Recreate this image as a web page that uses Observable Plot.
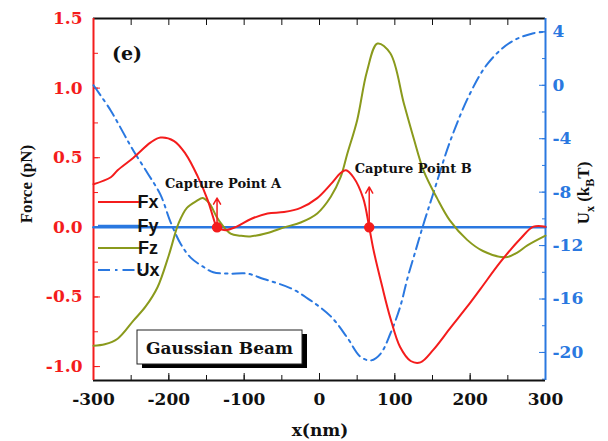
<!DOCTYPE html>
<html>
<head>
<meta charset="utf-8">
<script src="https://cdn.jsdelivr.net/npm/d3@7"></script>
<script src="https://cdn.jsdelivr.net/npm/@observablehq/plot@0.6"></script>
<style>
  html, body { margin: 0; padding: 0; background: #fff; }
  #chart { width: 608px; height: 441px; }
</style>
</head>
<body>
<div id="chart"></div>
<script>
// Optical forces on a particle in a Gaussian beam, and the trapping potential Ux.
const xFx = [-300,-277,-268,-247,-224,-211,-193,-178,-162,-148,-141,-136,-125,-110,-91,-69,-47,-25,-3,15,28,35,45,58,66,72,83,94,107,121,134,151,174,196,214,240,267,284,300];
const fx  = [0.31,0.36,0.41,0.50,0.61,0.645,0.62,0.53,0.37,0.19,0.07,0.0,-0.02,0.005,0.06,0.10,0.11,0.14,0.21,0.31,0.39,0.41,0.36,0.21,0.0,-0.17,-0.42,-0.65,-0.86,-0.96,-0.97,-0.88,-0.72,-0.57,-0.44,-0.25,-0.08,0.005,0.005];

const xFy = [-300, 300];
const fy  = [0, 0];

const xFz = [-300,-285,-268,-247,-231,-215,-200,-187,-176,-163,-155,-146,-137,-131,-118,-105,-92,-69,-47,-25,-3,15,28,37,50,63,77,94,112,125,138,156,173,196,217,247,263,276,300];
const fz  = [-0.85,-0.84,-0.80,-0.67,-0.57,-0.43,-0.20,0.03,0.14,0.19,0.21,0.17,0.08,0.03,-0.045,-0.06,-0.065,-0.04,0.0,0.035,0.10,0.22,0.36,0.53,0.77,1.12,1.32,1.25,0.89,0.64,0.41,0.21,0.05,-0.09,-0.17,-0.215,-0.18,-0.13,-0.06];

const xUx = [-300,-277,-260,-247,-228,-211,-198,-184,-171,-154,-141,-120,-96,-74,-38,-12,15,37,54,68,81,94,107,117,128,138,151,174,200,223,253,284,300];
const ux  = [0.0,-1.9,-3.6,-4.9,-6.6,-8.2,-10.2,-11.9,-12.9,-13.6,-14.0,-14.1,-14.1,-14.5,-15.2,-16.1,-17.3,-18.9,-20.3,-20.6,-20.1,-18.6,-16.6,-14.4,-12.3,-10.4,-8.1,-4.1,-0.6,1.6,3.2,3.9,4.0];

const captureX = [-136, 66];
const captureArrowTop = [0.21, 0.29];
const captureNames = ["Capture Point A", "Capture Point B"];

const seriesNames = ["Fx", "Fy", "Fz", "Ux"];

const xDomain = [-300, 300];
const forceDomain = [-1.1, 1.5];
const uDomain = [-22.1, 5.0];
const xTicks = [-300, -200, -100, 0, 100, 200, 300];
const xMinor = d3.range(-300, 301, 50);
const forceTicks = [-1.0, -0.5, 0.0, 0.5, 1.0, 1.5];
const forceMinor = d3.range(-1.0, 1.51, 0.25);
const uTicks = [-20, -16, -12, -8, -4, 0, 4];
const uMinor = d3.range(-22, 5, 2);

const RED = "#f41c1c", BLUE = "#2a78e0", OLIVE = "#8a9a1c";
const SERIF_WIDE = "'DejaVu Serif', serif";
const SERIF = "'Liberation Serif', 'Times New Roman', serif";
const SANS = "'Liberation Sans', Arial, sans-serif";

// Ux shares the plot's y scale through a linear map onto the force axis.
const uToForce = d3.scaleLinear().domain(uDomain).range(forceDomain);
const hyphen = (s) => s.replace("\u2212", "-");
const fmtForce = (v) => hyphen(d3.format(".1f")(v));
const fmtU = (v) => hyphen(String(Math.round(uToForce.invert(v))));

const fxData = xFx.map((x, i) => ({x, v: fx[i]}));
const fyData = xFy.map((x, i) => ({x, v: fy[i]}));
const fzData = xFz.map((x, i) => ({x, v: fz[i]}));
const uxData = xUx.map((x, i) => ({x, v: uToForce(ux[i])}));
const captures = captureX.map((x, i) => ({x, top: captureArrowTop[i], name: captureNames[i]}));

const DASHDOT = "12,5,2.5,5";
const CURVE = "catmull-rom";

// Legend, panel tag, beam box and axis titles, placed relative to the frame.
function annotations(index, scales, values, dims) {
  const ml = dims ? dims.marginLeft : 93;
  const mt = dims ? dims.marginTop : 18;
  const w = dims ? dims.width : 608;
  const g = d3.create("svg:g");

  g.append("text").attr("x", ml + 34).attr("y", mt + 35)
    .attr("text-anchor", "middle").attr("dominant-baseline", "central")
    .style("font-family", SERIF_WIDE).style("font-weight", "bold").style("font-size", "19px")
    .attr("fill", "#111").text("(e)");

  const legendStyles = [
    {stroke: RED, dash: null, dy: 184},
    {stroke: BLUE, dash: null, dy: 208},
    {stroke: OLIVE, dash: null, dy: 230},
    {stroke: BLUE, dash: DASHDOT, dy: 252}
  ];
  seriesNames.forEach((name, i) => {
    const s = legendStyles[i];
    const y = mt + s.dy;
    g.append("line").attr("x1", ml + 5).attr("x2", ml + 49).attr("y1", y).attr("y2", y)
      .attr("stroke", s.stroke).attr("stroke-width", i === 1 ? 2.5 : 2)
      .attr("stroke-dasharray", s.dash);
    g.append("text").attr("x", ml + 55).attr("y", y)
      .attr("dominant-baseline", "central")
      .style("font-family", SANS).style("font-size", "18px").attr("fill", "#111")
      .text(name);
  });

  const bx = ml + 44, by = mt + 312, bw = 165, bh = 34;
  g.append("rect").attr("x", bx + 5).attr("y", by + 4).attr("width", bw).attr("height", bh).attr("fill", "#000");
  g.append("rect").attr("x", bx).attr("y", by).attr("width", bw).attr("height", bh)
    .attr("fill", "#fff").attr("stroke", "#222").attr("stroke-width", 1);
  g.append("text").attr("x", bx + bw / 2).attr("y", by + bh / 2 + 1)
    .attr("text-anchor", "middle").attr("dominant-baseline", "central")
    .style("font-family", SERIF_WIDE).style("font-weight", "bold").style("font-size", "17px")
    .attr("fill", "#111").text("Gaussian Beam");

  g.append("text").attr("transform", `translate(26,${mt + 166}) rotate(-90)`)
    .attr("text-anchor", "middle").attr("dominant-baseline", "central")
    .style("font-family", SERIF).style("font-weight", "bold").style("font-size", "17px")
    .attr("fill", "#111").text("Force (pN)");

  const ut = g.append("text").attr("transform", `translate(${w - 25},${mt + 175}) rotate(-90)`)
    .attr("text-anchor", "middle").attr("dominant-baseline", "central")
    .style("font-family", SERIF).style("font-weight", "bold").style("font-size", "17px")
    .attr("fill", "#111");
  ut.append("tspan").text("U");
  ut.append("tspan").attr("baseline-shift", "sub").style("font-size", "12px").text("x");
  ut.append("tspan").text(" (k");
  ut.append("tspan").attr("baseline-shift", "sub").style("font-size", "12px").text("B");
  ut.append("tspan").text("T)");

  g.append("text").attr("x", 320).attr("y", 430)
    .attr("text-anchor", "middle").attr("dominant-baseline", "central")
    .style("font-family", SERIF_WIDE).style("font-weight", "bold").style("font-size", "17px")
    .attr("fill", "#111").text("x(nm)");
  return g.node();
}

const plot = Plot.plot({
  width: 608,
  height: 441,
  marginLeft: 93,
  marginRight: 63,
  marginTop: 18,
  marginBottom: 61,
  x: {domain: xDomain},
  y: {domain: forceDomain},
  style: {background: "#fff", fontFamily: SERIF_WIDE, fontWeight: "bold", fontSize: "17px", color: "#111"},
  marks: [
    // axes and frame
    Plot.axisX(xTicks, {anchor: "bottom", tickSize: -7, tickPadding: 19, tickFormat: (d) => hyphen(String(d)), label: null, color: "#111"}),
    Plot.axisX(xMinor, {anchor: "bottom", tickSize: -5, tickFormat: () => "", label: null, color: "#111"}),
    Plot.axisX(xMinor, {anchor: "top", tickSize: -6, tickFormat: () => "", label: null, color: "#111"}),
    Plot.axisY(forceTicks, {anchor: "left", tickSize: -7, tickPadding: 18, tickFormat: fmtForce, label: null, color: RED}),
    Plot.axisY(forceMinor, {anchor: "left", tickSize: -5, tickFormat: () => "", label: null, color: RED}),
    Plot.axisY(uTicks.map(uToForce), {anchor: "right", tickSize: -7, tickPadding: 14, tickFormat: fmtU, label: null, color: BLUE}),
    Plot.axisY(uMinor.map(uToForce), {anchor: "right", tickSize: -4, tickFormat: () => "", label: null, color: BLUE}),
    Plot.ruleY([forceDomain[1]], {stroke: "#111", strokeWidth: 2}),
    Plot.ruleY([forceDomain[0]], {stroke: "#111", strokeWidth: 2}),
    Plot.ruleX([xDomain[0]], {stroke: RED, strokeWidth: 2}),
    Plot.ruleX([xDomain[1]], {stroke: BLUE, strokeWidth: 2}),

    // series
    Plot.line(fyData, {x: "x", y: "v", stroke: BLUE, strokeWidth: 2.5}),
    Plot.line(uxData, {x: "x", y: "v", stroke: BLUE, strokeWidth: 2, strokeDasharray: DASHDOT, curve: CURVE}),
    Plot.line(fzData, {x: "x", y: "v", stroke: OLIVE, strokeWidth: 2, curve: CURVE}),
    Plot.line(fxData, {x: "x", y: "v", stroke: RED, strokeWidth: 2, curve: CURVE}),

    // capture points
    Plot.arrow(captures, {x1: "x", y1: 0, x2: "x", y2: "top", stroke: RED, strokeWidth: 1.5, headLength: 7}),
    Plot.dot(captures, {x: "x", y: 0, r: 4.5, fill: RED, stroke: RED}),
    Plot.text([captures[0]], {x: "x", y: 0, text: "name", dx: 6, dy: -44, fontFamily: SERIF_WIDE, fontWeight: "bold", fontSize: 13, fill: "#111"}),
    Plot.text([captures[1]], {x: "x", y: 0, text: "name", dx: 44, dy: -59, fontFamily: SERIF_WIDE, fontWeight: "bold", fontSize: 13, fill: "#111"}),

    annotations
  ]
});

document.getElementById("chart").append(plot);
</script>
</body>
</html>
